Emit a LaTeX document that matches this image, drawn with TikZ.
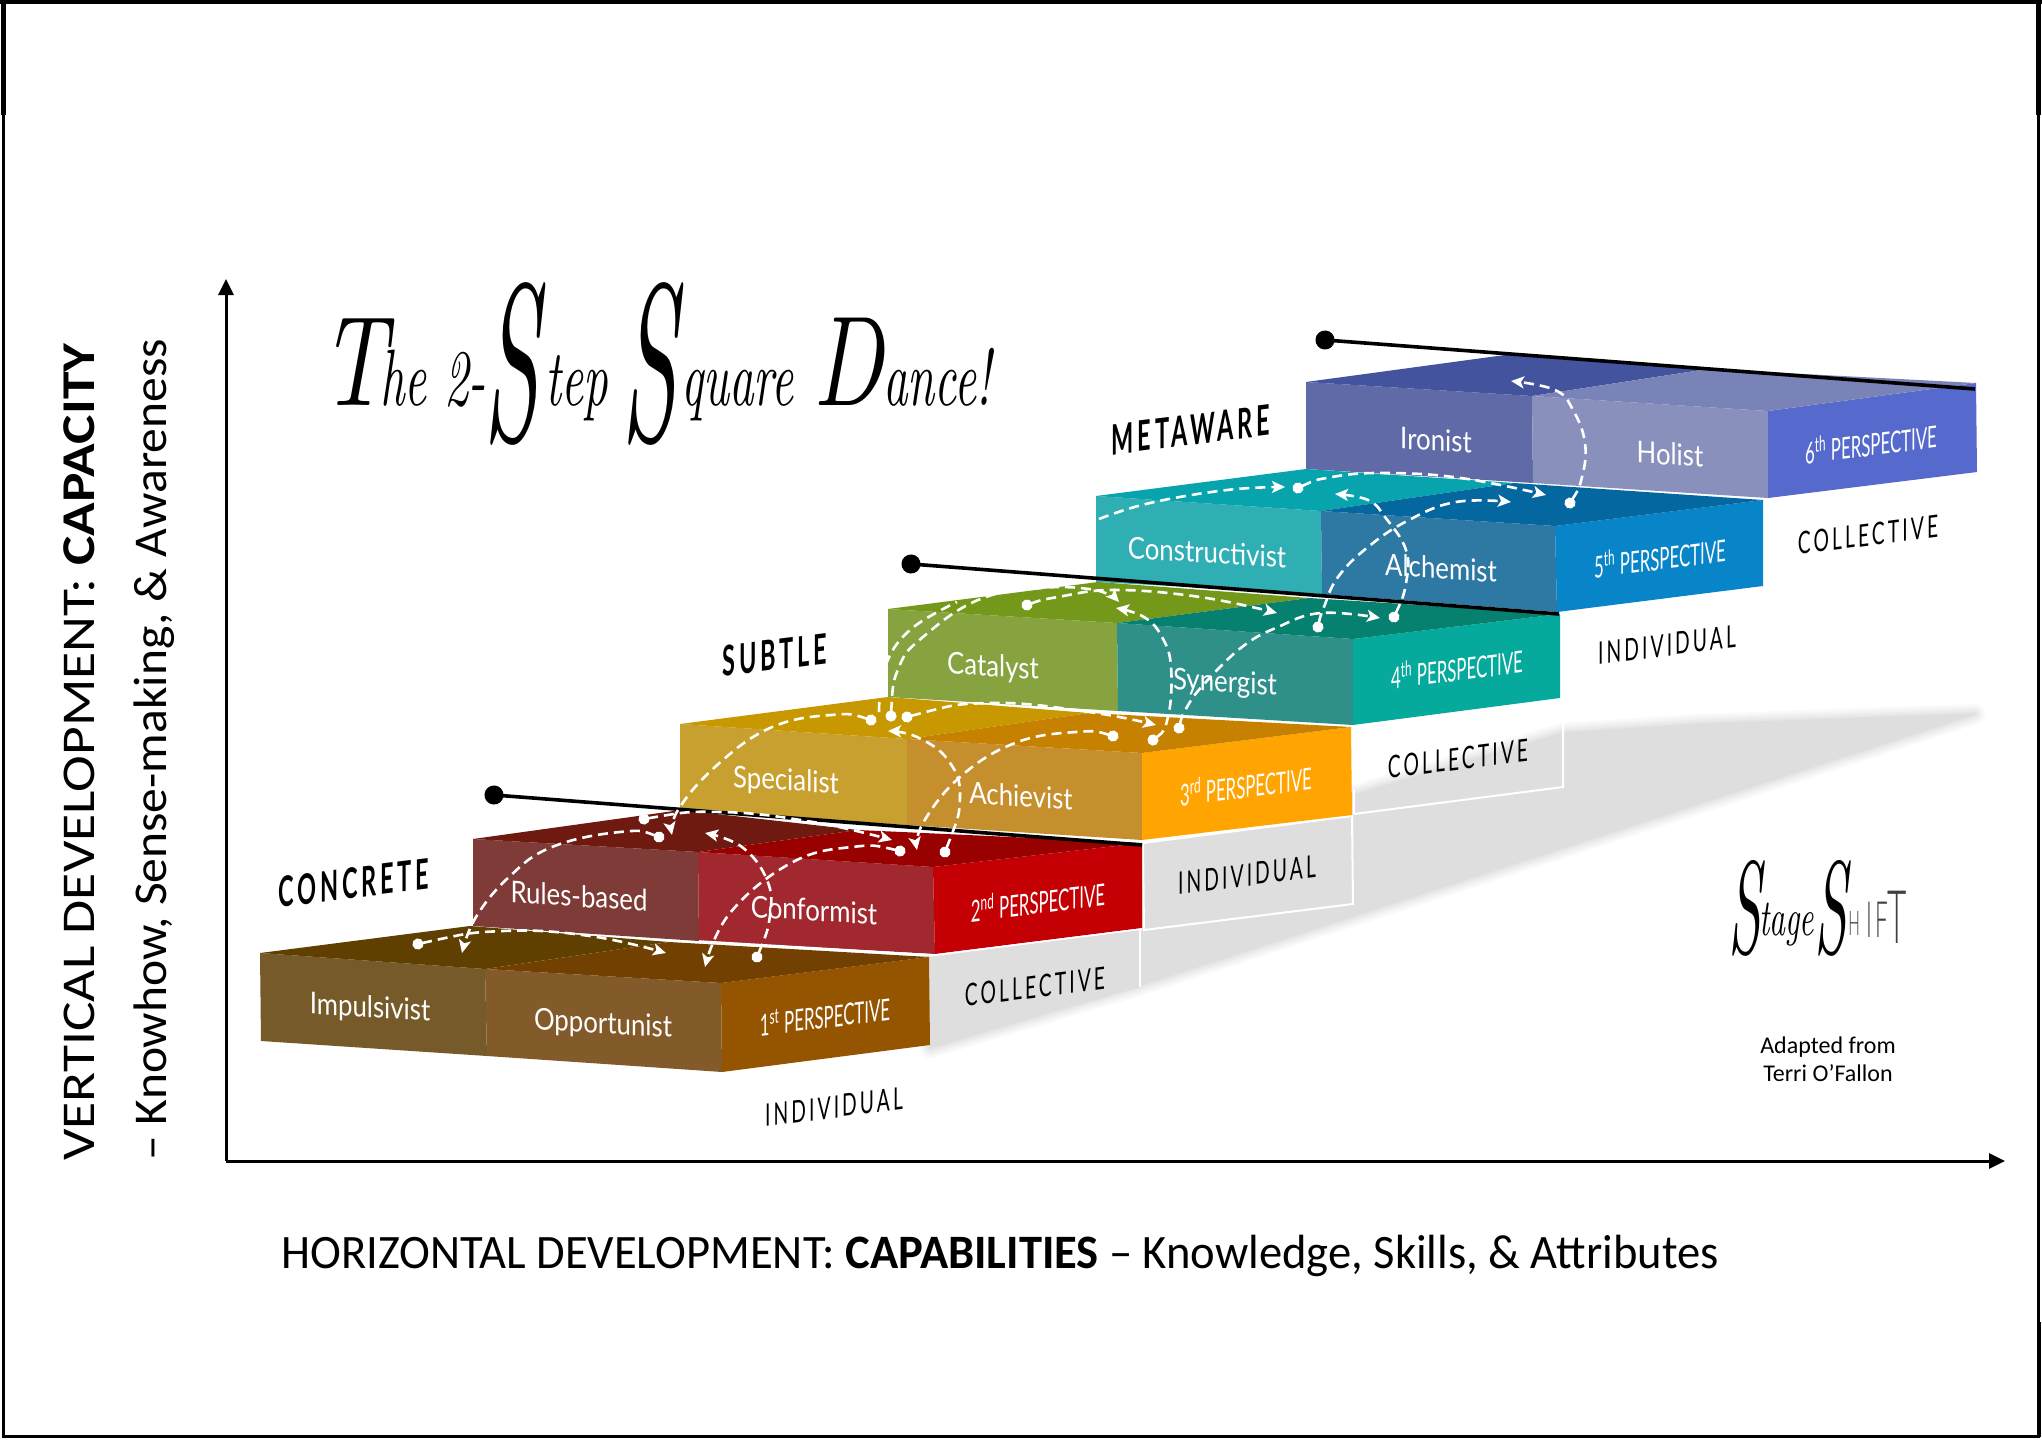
\documentclass[tikz,border=0pt]{standalone}
\usepackage{fontspec}
\usetikzlibrary{arrows.meta}
\setmainfont{Carlito}
\newfontfamily\vfonta[FakeStretch=1.18]{Carlito}
\newfontfamily\vfontb[FakeStretch=1.055]{Carlito}
\newfontfamily\hfont[FakeStretch=.97]{Carlito}
\newfontfamily\facefont[FakeStretch=.86]{Lato}
\newfontfamily\perspfont[FakeStretch=.56]{Lato}
\newfontfamily\levelfont[FakeStretch=.56,LetterSpace=9]{Lato}
\newfontfamily\gridfont[FakeStretch=.62,LetterSpace=10]{Lato}
\newfontfamily\scriptfam[FakeStretch=.6,Extension=.otf]{lmroman10-italic}
\newfontfamily\scriptcap[FakeStretch=.72,Extension=.otf]{lmroman10-italic}
\newfontfamily\scriptbig[FakeStretch=.44,Extension=.otf]{lmroman10-italic}
\newfontfamily\thinfam[FakeStretch=.45]{Lato Light}
\definecolor{aL}{HTML}{765A2A}\definecolor{aM}{HTML}{835A2A}\definecolor{aR}{HTML}{955400}\definecolor{aTL}{HTML}{5F4000}\definecolor{aTR}{HTML}{724000}
\definecolor{bL}{HTML}{7E3B37}\definecolor{bM}{HTML}{A0282E}\definecolor{bR}{HTML}{C40005}\definecolor{bTL}{HTML}{6E1A10}\definecolor{bTR}{HTML}{990000}
\definecolor{cL}{HTML}{C7A02F}\definecolor{cM}{HTML}{C68F2D}\definecolor{cR}{HTML}{FFA400}\definecolor{cTL}{HTML}{C79800}\definecolor{cTR}{HTML}{C78100}
\definecolor{dL}{HTML}{86A33F}\definecolor{dM}{HTML}{2F908A}\definecolor{dR}{HTML}{06AA9C}\definecolor{dTL}{HTML}{74991A}\definecolor{dTR}{HTML}{06806F}
\definecolor{eL}{HTML}{2FAEB4}\definecolor{eM}{HTML}{2E78A4}\definecolor{eR}{HTML}{0884C8}\definecolor{eTL}{HTML}{07A4AE}\definecolor{eTR}{HTML}{05679F}
\definecolor{fL}{HTML}{5F6AA6}\definecolor{fM}{HTML}{8A90BC}\definecolor{fR}{HTML}{5669CC}\definecolor{fTL}{HTML}{43539E}\definecolor{fTR}{HTML}{7A83B8}
\definecolor{gridgrey}{HTML}{DEDEDE}
\tikzset{
 facelabel/.style={text=white,font=\facefont\fontsize{15}{16}\selectfont,cm={1,-.06,0,1,(0,0)},inner sep=0pt},
 persplabel/.style={text=white,font=\perspfont\fontsize{15}{16}\selectfont,cm={1,.125,0,1,(0,0)},inner sep=0pt},
 gridlabel/.style={text=black,font=\gridfont\fontsize{15.5}{16}\selectfont,cm={1,.125,0,1,(0,0)},inner sep=0pt},
 levellabel/.style={text=black,font=\levelfont\bfseries\fontsize{21}{22}\selectfont,cm={1,.125,0,1,(0,0)},inner sep=0pt},
 dancecore/.style={draw=white,line width=1.3pt,dash pattern=on 5pt off 3pt},
 dance/.style={dancecore,shorten <=-2.75pt,
   arrows={Circle[length=5.5pt,width=5.5pt]-{Stealth[length=6.5pt,width=6pt,inset=1.5pt]}}},
 dancefree/.style={dancecore,-{Stealth[length=6.5pt,width=6pt,inset=1.5pt]}},
 dancebare/.style={dancecore},
 levelline/.style={draw=black,line width=1.8pt,shorten <=-4.75pt,{Circle[length=9.5pt,width=9.5pt]}-},
 axis/.style={draw=black,line width=1.5pt,-{Triangle[length=8pt,width=7.5pt]}},
}
\begin{document}
\begin{tikzpicture}[x=.5pt,y=-.5pt]
\useasboundingbox (0,0) rectangle (2042,1440);
\fill[white] (0,0) rectangle (2042,1440);
% frame
\draw[black,line width=1.5pt] (3.5,2) rectangle (2038.5,1436.5);
\fill[black] (0,0) rectangle (2042,4);
\fill[black] (1,0) rectangle (6,115);
\fill[black] (2036,0) rectangle (2041,115);
\fill[black] (2036.5,1322) rectangle (2041,1437);
% shadow, soft edge built from nested strokes
\foreach \w/\g in {20/F9F9F9,15/F3F3F3,10/ECECEC,5/E5E5E5,1/DEDEDE}{
 \definecolor{shadowtone}{HTML}{\g}
 \fill[shadowtone] (930,1048) -- (1141,985) -- (1975,714) -- (1700,724) -- (1563,733) -- (1354,795) -- (1354,845) -- (1142,880) -- (1142,935) -- (930,960) -- cycle;
 \draw[shadowtone,line width=\w*.5pt,line join=round] (930,1048) -- (1141,985) -- (1975,714) -- (1700,724) -- (1563,733) -- (1354,795) -- (1354,845) -- (1142,880) -- (1142,935) -- (930,960) -- cycle;
}
% grid cells
\draw[white,line width=1pt] (1354,814) -- (1563,787) -- (1563,723);
\draw[white,line width=1pt] (1354,790) -- (1354,814);
\fill[gridgrey] (1143,843) -- (1352,816) -- (1353,904) -- (1144,930) -- cycle;
\draw[white,line width=1pt] (1143,843) -- (1352,816) -- (1353,904) -- (1144,930) -- cycle;
\fill[gridgrey] (930,957) -- (1140,930) -- (1140,987) -- (960,1038) -- (930,1045) -- cycle;
\draw[white,line width=1pt] (1140,930) -- (1140,987);
% block 6
\fill[fL] (1306,382) -- (1532,396) -- (1533,483) -- (1306,469) -- cycle;
\fill[fM] (1532,396) -- (1768,411) -- (1768,498) -- (1533,483) -- cycle;
\fill[fR] (1768,411) -- (1976,383) -- (1977,472) -- (1768,498) -- cycle;
\fill[fTL] (1306,382) -- (1505,355) -- (1708,369) -- (1532,396) -- cycle;
\fill[fTR] (1532,396) -- (1708,369) -- (1976,383) -- (1768,411) -- cycle;
% block 5
\fill[eL] (1096,496) -- (1321,511) -- (1322,594) -- (1096,582) -- cycle;
\fill[eM] (1321,511) -- (1555,526) -- (1557,612) -- (1322,594) -- cycle;
\fill[eR] (1555,526) -- (1763,500) -- (1763,586) -- (1557,612) -- cycle;
\fill[eTL] (1096,496) -- (1306,469) -- (1514,483) -- (1321,511) -- cycle;
\fill[eTR] (1321,511) -- (1514,483) -- (1763,500) -- (1555,526) -- cycle;
% block 4
\fill[dL] (888,609) -- (1117,623) -- (1118,711) -- (888,697) -- cycle;
\fill[dM] (1117,623) -- (1353,639) -- (1353,725) -- (1118,711) -- cycle;
\fill[dR] (1353,639) -- (1560,614) -- (1560,698) -- (1353,725) -- cycle;
\fill[dTL] (888,609) -- (1098,582) -- (1309,598) -- (1117,623) -- cycle;
\fill[dTR] (1117,623) -- (1309,598) -- (1560,614) -- (1353,639) -- cycle;
% block 3
\fill[cL] (680,724) -- (907,739) -- (907,825) -- (680,810) -- cycle;
\fill[cM] (907,739) -- (1142,753) -- (1142,840) -- (907,825) -- cycle;
\fill[cR] (1142,753) -- (1351,727) -- (1352,815) -- (1142,840) -- cycle;
\fill[cTL] (680,724) -- (888,697) -- (1089,713) -- (907,739) -- cycle;
\fill[cTR] (907,739) -- (1089,713) -- (1351,727) -- (1142,753) -- cycle;
% block 2
\fill[bL] (473,839) -- (698,852) -- (699,941) -- (473,926) -- cycle;
\fill[bM] (698,852) -- (933,867) -- (935,954) -- (699,941) -- cycle;
\fill[bR] (933,867) -- (1142,843) -- (1142,928) -- (935,954) -- cycle;
\fill[bTL] (473,839) -- (681,810) -- (858,830) -- (698,852) -- cycle;
\fill[bTR] (698,852) -- (858,830) -- (1142,843) -- (933,867) -- cycle;
\draw[white,line width=.8pt] (699,941) -- (935,955) -- (1142,929);
% block 1
\fill[aL] (260,953) -- (485,969) -- (487,1056) -- (261,1041) -- cycle;
\fill[aM] (485,969) -- (721,983) -- (722,1072) -- (487,1056) -- cycle;
\fill[aR] (721,983) -- (929,957) -- (930,1045) -- (722,1072) -- cycle;
\fill[aTL] (260,953) -- (470,926) -- (669,942) -- (485,969) -- cycle;
\fill[aTR] (485,969) -- (669,942) -- (929,957) -- (721,983) -- cycle;
% level lines
\coordinate (lineA) at (1142,845);
\coordinate (lineB) at (1559,614);
\coordinate (lineC) at (1975,389);
\coordinate (dotA) at (494,795);
\coordinate (dotB) at (911,564);
\coordinate (dotC) at (1325,340);
\draw[levelline] (dotA) -- (lineA);
\draw[levelline] (dotB) -- (lineB);
\draw[levelline] (dotC) -- (lineC);
% dance arcs
\draw[dance] plot[smooth,tension=.7] coordinates {(418,944) (503,931) (590,936) (666,953)};
\draw[dance] plot[smooth,tension=.7] coordinates {(659,837) (620,832) (552,847) (509,877) (476,917) (462,953)};
\draw[dance] plot[smooth,tension=.7] coordinates {(644,819) (721,812) (813,822) (892,840)};
\draw[dance] plot[smooth,tension=.7] coordinates {(757,957) (770,915) (767,880) (742,847) (705,833)};
\draw[dance] plot[smooth,tension=.7] coordinates {(900,851) (852,847) (791,863) (730,913) (705,967)};
\draw[dance] plot[smooth,tension=.7] coordinates {(1113,736) (1076,732) (1015,743) (960,777) (923,823) (917,850)};
\draw[dance] plot[smooth,tension=.7] coordinates {(945,852) (960,797) (948,760) (917,737) (888,731)};
\draw[dance] plot[smooth,tension=.7] coordinates {(871,720) (831,715) (770,728) (715,767) (678,810) (672,835)};
\draw[dance] plot[smooth,tension=.7] coordinates {(907,717) (991,703) (1089,712) (1156,725)};
\draw[dance] plot[smooth,tension=.7] coordinates {(891,716) (899,667) (923,637) (978,600) (1040,588) (1095,590) (1119,602)};
\draw[dancebare] plot[smooth,tension=.7] coordinates {(879,712) (885,667) (910,630) (957,602)};
\draw[dance] plot[smooth,tension=.7] coordinates {(1027,605) (1058,597) (1115,590) (1200,597) (1277,613)};
\draw[dance] plot[smooth,tension=.7] coordinates {(1153,740) (1168,717) (1171,667) (1162,637) (1144,617) (1116,608)};
\draw[dance] plot[smooth,tension=.7] coordinates {(1179,728) (1187,707) (1205,683) (1242,647) (1278,627) (1321,613) (1380,618)};
\draw[dance] plot[smooth,tension=.7] coordinates {(1318,627) (1324,607) (1338,577) (1368,547) (1409,520) (1456,502) (1511,502)};
\draw[dance] plot[smooth,tension=.7] coordinates {(1394,617) (1406,583) (1406,550) (1385,517) (1368,500) (1335,494)};
\draw[dancefree] plot[smooth,tension=.7] coordinates {(1099,519) (1150,503) (1227,490) (1285,487)};
\draw[dance] plot[smooth,tension=.7] coordinates {(1298,488) (1332,477) (1385,473) (1461,478) (1546,495)};
\draw[dance] plot[smooth,tension=.7] coordinates {(1570,503) (1582,477) (1585,443) (1573,410) (1555,390) (1511,381)};
% face labels
\node[facelabel] (impulsivist) at (370,1009) {Impulsivist};
\node[facelabel] (opportunist) at (603,1025) {Opportunist};
\node[persplabel] (p1) at (825,1016) {1\textsuperscript{st} PERSPECTIVE};
\node[facelabel] (rules) at (579,896) {Rules-based};
\node[facelabel] (conformist) at (814,910) {Conformist};
\node[persplabel] (p2) at (1038,901) {2\textsuperscript{nd} PERSPECTIVE};
\node[facelabel] (specialist) at (786,782) {Specialist};
\node[facelabel] (achievist) at (1021,796) {Achievist};
\node[persplabel] (p3) at (1246,785) {3\textsuperscript{rd} PERSPECTIVE};
\node[facelabel] (catalyst) at (993,668) {Catalyst};
\node[facelabel] (synergist) at (1225,684) {Synergist};
\node[persplabel] (p4) at (1457,668) {4\textsuperscript{th} PERSPECTIVE};
\node[facelabel] (constructivist) at (1207,552) {Constructivist};
\node[facelabel] (alchemist) at (1441,568) {Alchemist};
\node[persplabel] (p5) at (1660,557) {5\textsuperscript{th} PERSPECTIVE};
\node[facelabel] (ironist) at (1436,440) {Ironist};
\node[facelabel] (holist) at (1670,454) {Holist};
\node[persplabel] (p6) at (1871,443) {6\textsuperscript{th} PERSPECTIVE};
% level names
\node[levellabel] (concrete) at (354,883) {CONCRETE};
\node[levellabel] (subtle) at (775,655) {SUBTLE};
\node[levellabel] (metaware) at (1191,430) {METAWARE};
% grid labels
\node[gridlabel] (i1) at (834,1107) {INDIVIDUAL};
\node[gridlabel] (c1) at (1035,987) {COLLECTIVE};
\node[gridlabel] (i2) at (1247,875) {INDIVIDUAL};
\node[gridlabel] (c2) at (1458,759) {COLLECTIVE};
\node[gridlabel] (i3) at (1667,645) {INDIVIDUAL};
\node[gridlabel] (c3) at (1868,535) {COLLECTIVE};
% axes
\coordinate (origin) at (226,1161);
\coordinate (ytip) at (226,279);
\coordinate (xtip) at (2005,1161);
\draw[axis] (origin) -- (ytip);
\draw[axis] (origin) -- (xtip);
\node[rotate=90,inner sep=0pt,font=\vfonta\fontsize{23.5}{26}\selectfont] (vlabel) at (79,752) {VERTICAL DEVELOPMENT: \textbf{CAPACITY}};
\node[rotate=90,inner sep=0pt,font=\vfontb\fontsize{23.5}{26}\selectfont] (vlabelb) at (154,750) {– Knowhow, Sense-making, \& Awareness};
\node[inner sep=0pt,font=\hfont\fontsize{24}{26}\selectfont] (hlabel) at (1000,1256) {HORIZONTAL DEVELOPMENT: \textbf{CAPABILITIES} – Knowledge, Skills, \& Attributes};
% title
\newcommand\bigess[2]{\raisebox{#2}{\scriptbig\fontsize{#1}{#1}\selectfont S}}
\node[anchor=base west,inner sep=0pt,font=\scriptfam\fontsize{40}{40}\selectfont] (title) at (320,405) {{\scriptcap\fontsize{64}{64}\selectfont T}\kern-3pt he 2-\kern-1pt\bigess{112}{-17.5pt}\kern3pt tep\kern7pt\bigess{112}{-17.5pt}\kern2pt quare\kern10pt{\scriptcap\fontsize{64}{64}\selectfont D}ance!};
% logo
\node[anchor=base west,inner sep=0pt,font=\scriptfam\fontsize{26}{26}\selectfont] (logo) at (1728,935) {\bigess{66}{-9pt}\kern-1pt tage\kern0pt\bigess{66}{-9pt}};
\node[anchor=base west,inner sep=0pt,text=black!75,font=\thinfam\fontsize{17}{18}\selectfont] (logoH) at (1848,935) {H};
\node[anchor=base west,inner sep=0pt,text=black!75,font=\thinfam\fontsize{25}{26}\selectfont] (logoI) at (1866,937) {I};
\node[anchor=base west,inner sep=0pt,text=black!75,font=\thinfam\fontsize{25}{26}\selectfont] (logoF) at (1875,937) {F};
\node[anchor=base west,inner sep=0pt,text=black!75,font=\thinfam\fontsize{37}{38}\selectfont] (logoT) at (1887,943) {T};
\node[align=center,inner sep=0pt,font=\fontsize{12}{14}\selectfont] (credit) at (1828,1059) {Adapted from\\Terri O’Fallon};
\end{tikzpicture}
\end{document}
